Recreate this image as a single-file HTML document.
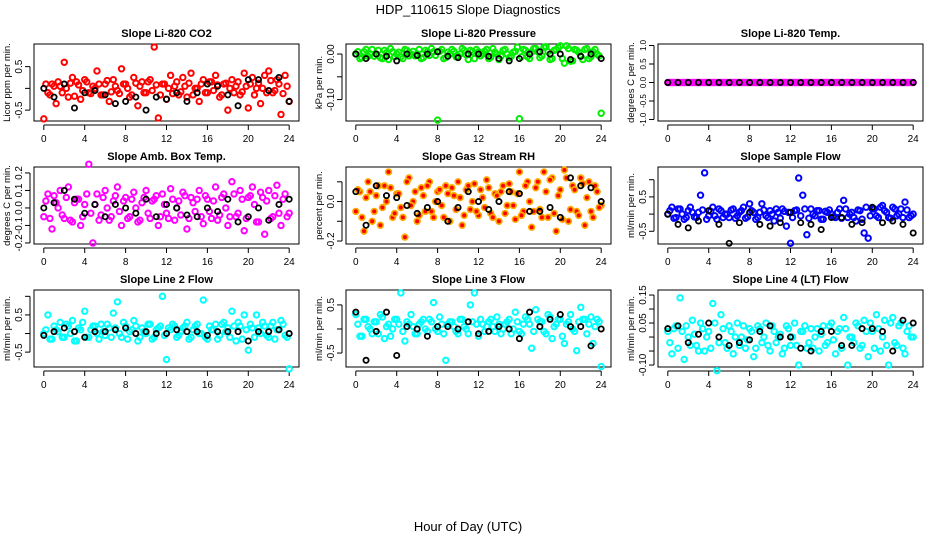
<!DOCTYPE html>
<html><head><meta charset="utf-8"><style>
body{margin:0;background:#fff;}
svg{display:block;font-family:"Liberation Sans",Arial,sans-serif;}
</style></head><body>
<svg id="chart" width="936" height="540" viewBox="0 0 936 540" xmlns="http://www.w3.org/2000/svg">
<text x="468" y="14" text-anchor="middle" font-size="13">HDP_110615  Slope Diagnostics</text>
<text x="468" y="531" text-anchor="middle" font-size="13">Hour of Day (UTC)</text>
</svg>
<script>
const colorHours=[0,0.4,0.8,1.2,1.6,2,2.4,2.8,3.2,3.6,4,4.4,4.8,5.2,5.6,6,6.4,6.8,7.2,7.6,8,8.4,8.8,9.2,9.6,10,10.4,10.8,11.2,11.6,12,12.4,12.8,13.2,13.6,14,14.4,14.8,15.2,15.6,16,16.4,16.8,17.2,17.6,18,18.4,18.8,19.2,19.6,20,20.4,20.8,21.2,21.6,22,22.4,22.8,23.2,23.6,24];
const colorHours2=[0.2,0.6,1,1.4,1.8,2.2,2.6,3,3.4,3.8,4.2,4.6,5,5.4,5.8,6.2,6.6,7,7.4,7.8,8.2,8.6,9,9.4,9.8,10.2,10.6,11,11.4,11.8,12.2,12.6,13,13.4,13.8,14.2,14.6,15,15.4,15.8,16.2,16.6,17,17.4,17.8,18.2,18.6,19,19.4,19.8,20.2,20.6,21,21.4,21.8,22.2,22.6,23,23.4,23.8];
const blackHours=[0,1,2,3,4,5,6,7,8,9,10,11,12,13,14,15,16,17,18,19,20,21,22,23,24];
const xTicks=[0,4,8,12,16,20,24];
const panelTitles=["Slope Li-820 CO2","Slope Li-820 Pressure","Slope Li-820 Temp.","Slope Amb. Box Temp.","Slope Gas Stream RH","Slope Sample Flow","Slope Line 2 Flow","Slope Line 3 Flow","Slope Line 4 (LT) Flow"];
const yTitles=["Licor ppm per min.","kPa per min.","degrees C per min.","degrees C per min.","percent per min.","ml/min per min.","ml/min per min.","ml/min per min.","ml/min per min."];
const co2Vals=[-0.7,-0.1,0.1,-0.35,0.05,0.6,-0.2,0.25,0.15,-0.25,0.2,-0.1,0.05,0.4,-0.15,0.1,-0.3,0.2,-0.05,0.45,0.1,-0.2,0.25,-0.4,0.15,-0.1,0.2,0.95,-0.68,0.1,-0.25,0.3,0.05,-0.15,0.25,-0.2,0.35,0.0,-0.3,0.2,-0.1,0.15,0.3,-0.2,0.1,-0.5,0.2,0.05,-0.15,0.35,-0.45,0.25,0.0,-0.35,0.3,0.4,-0.1,0.2,-0.6,0.3,-0.3];
const co2Vals2=[0.1,-0.15,0.05,0.15,-0.1,0.0,0.12,-0.18,0.08,-0.05,0.15,-0.12,0.0,0.1,-0.15,0.18,-0.08,0.05,-0.12,0.1,0.0,-0.15,0.12,0.05,-0.1,0.15,-0.05,0.08,-0.15,0.1,0.0,-0.12,0.15,-0.08,0.05,0.12,-0.15,0.0,0.1,-0.1,0.15,-0.05,0.08,-0.15,0.12,0.0,-0.1,0.15,-0.08,0.05,0.1,-0.15,0.12,0.0,-0.1,0.18,-0.05,0.1,-0.12,0.05];
const co2Black=[0.0,-0.2,0.1,-0.45,-0.1,-0.05,-0.15,-0.35,-0.3,-0.2,-0.5,-0.2,-0.25,-0.1,-0.3,-0.1,0.1,0.05,-0.15,-0.4,0.2,0.2,-0.05,0.25,-0.3];
const presVals=[0,-0.01,0.005,-0.005,0.01,0,-0.008,0.008,-0.012,0.005,0,-0.006,0.01,-0.004,0.006,0,-0.01,0.008,-0.003,0.005,-0.145,0.01,-0.008,0,0.006,-0.005,0.012,-0.002,0.008,-0.01,0.005,0,0.01,-0.007,0.004,-0.012,0.008,0,-0.005,0.006,-0.142,0.01,-0.006,0.004,0.012,-0.008,0.015,0.005,-0.01,0.01,0.018,-0.02,0.012,-0.015,0.008,-0.005,0.01,-0.01,0.005,0,-0.13];
const presVals2=[0.005,-0.008,0.01,0,-0.005,0.008,-0.01,0.003,0.012,-0.006,0.004,-0.01,0.008,0,-0.004,0.01,-0.008,0.005,0.012,-0.003,0.006,-0.01,0.004,0.01,-0.006,0,0.008,-0.012,0.005,0.01,-0.004,0.006,-0.01,0.012,0,-0.005,0.01,-0.008,0.004,0.015,-0.006,0.008,-0.01,0.012,0.005,-0.004,0.016,-0.012,0.008,0.014,-0.01,0.018,-0.016,0.01,0.004,-0.012,0.012,-0.006,0.01,-0.004];
const presBlack=[0,-0.01,0,-0.005,-0.015,0,-0.003,0,0.005,-0.005,-0.008,0,0,-0.005,-0.01,-0.015,-0.01,0,0.005,0,0,-0.012,-0.005,0,-0.01];
const tempVals=[0,0,0,0,0,0,0,0,0,0,0,0,0,0,0,0,0,0,0,0,0,0,0,0,0,0,0,0,0,0,0,0,0,0,0,0,0,0,0,0,0,0,0,0,0,0,0,0,0,0,0,0,0,0,0,0,0,0,0,0,0];
const tempVals2=[0,0,0,0,0,0,0,0,0,0,0,0,0,0,0,0,0,0,0,0,0,0,0,0,0,0,0,0,0,0,0,0,0,0,0,0,0,0,0,0,0,0,0,0,0,0,0,0,0,0,0,0,0,0,0,0,0,0,0,0];
const tempBlack=[0,0,0,0,0,0,0,0,0,0,0,0,0,0,0,0,0,0,0,0,0,0,0,0,0];
const boxVals=[-0.05,0.08,-0.12,0.03,0.1,-0.06,0.12,-0.08,0.05,-0.1,0.02,0.25,-0.2,0.08,-0.04,0.1,-0.07,0.04,0.12,-0.1,0.06,-0.05,0.09,-0.08,0.03,0.1,-0.06,0.05,-0.1,0.08,-0.03,0.11,-0.07,0.04,0.09,-0.12,0.06,-0.02,0.1,-0.09,0.05,-0.06,0.12,-0.04,0.08,-0.1,0.15,-0.05,0.1,-0.13,0.06,0.12,-0.08,0.09,-0.15,0.1,-0.05,0.13,-0.1,0.08,-0.03];
const boxVals2=[0.04,-0.06,0.07,0.0,-0.04,0.06,-0.07,0.03,0.05,-0.05,0.08,-0.03,0.02,-0.07,0.06,0.0,-0.05,0.07,-0.02,0.04,-0.06,0.05,0.0,-0.07,0.06,-0.03,0.04,0.07,-0.05,0.02,-0.06,0.05,0.0,-0.04,0.07,-0.06,0.03,0.05,-0.05,0.07,-0.02,0.04,-0.07,0.06,0.0,-0.05,0.08,-0.03,0.05,-0.06,0.07,0.02,-0.08,0.06,0.04,-0.06,0.07,-0.03,0.05,-0.05];
const boxBlack=[0.0,0.03,0.1,0.05,-0.03,0.02,-0.05,0.02,0.0,-0.03,0.05,-0.05,0.02,0.0,-0.04,-0.05,0.0,-0.02,0.05,-0.08,-0.05,0.0,-0.07,0.02,0.05];
const rhVals=[-0.05,0.05,-0.15,0.1,-0.1,0.03,-0.12,0.08,0.15,-0.08,0.04,-0.03,-0.18,0.12,0.0,-0.1,0.07,-0.05,0.1,-0.08,0.05,-0.02,0.08,-0.1,0.03,0.1,-0.12,0.06,-0.04,0.09,-0.07,0.02,0.11,-0.06,0.04,-0.1,0.08,-0.02,0.05,-0.09,0.15,-0.05,0.1,-0.13,0.07,-0.04,0.15,-0.08,0.12,-0.15,0.06,0.16,-0.1,0.08,-0.05,0.12,-0.12,0.1,-0.08,0.05,-0.02];
const rhVals2=[0.06,-0.08,0.02,0.05,-0.05,0.08,-0.03,0.0,0.07,-0.06,0.04,-0.08,0.1,-0.02,0.05,-0.07,0.03,0.08,-0.05,0.0,0.06,-0.08,0.04,0.07,-0.04,0.02,-0.07,0.08,0.0,-0.05,0.06,-0.03,0.07,-0.08,0.03,0.05,-0.06,0.09,-0.02,0.04,-0.07,0.08,0.0,-0.05,0.1,-0.08,0.05,0.11,-0.06,0.03,-0.09,0.12,-0.04,0.06,-0.07,0.09,0.02,-0.05,0.08,-0.03];
const rhBlack=[0.05,-0.12,0.08,0.03,0.02,-0.02,-0.06,-0.03,0.0,-0.1,-0.03,0.05,0.0,-0.04,0.0,0.05,0.04,-0.05,-0.05,-0.03,-0.08,0.12,0.08,0.07,0.0];
const sampleVals=[0.0,0.2,-0.1,0.15,-0.15,0.1,0.05,-0.1,0.55,1.2,-0.05,0.2,-0.15,0.1,0.0,-0.1,0.15,-0.05,0.1,-0.12,0.3,0.05,-0.1,0.3,-0.05,0.1,-0.2,0.05,0.15,-0.35,-0.85,0.1,1.05,0.55,-0.6,0.15,-0.05,0.1,-0.15,0.05,0.0,-0.1,0.15,0.4,-0.1,0.05,-0.2,0.1,-0.55,-0.7,0.15,-0.05,0.2,0.1,-0.1,0.2,-0.05,0.15,0.35,-0.1,0.0];
const sampleVals2=[0.1,-0.12,0.15,0.0,-0.1,0.2,-0.08,0.05,0.12,-0.15,0.08,-0.05,0.15,-0.1,0.0,0.12,-0.12,0.05,0.2,-0.08,0.1,-0.15,0.05,0.12,-0.1,0.0,0.15,-0.12,0.08,0.05,-0.1,0.12,-0.05,0.15,-0.12,0.0,0.1,-0.15,0.08,0.12,-0.08,0.05,-0.12,0.15,0.0,-0.1,0.12,-0.15,0.2,-0.05,0.15,-0.1,0.25,0.05,-0.12,0.15,0.0,-0.1,0.12,-0.05];
const sampleBlack=[0.0,-0.3,-0.4,-0.2,0.1,-0.3,-0.85,-0.25,0.05,-0.3,-0.35,-0.25,0.05,-0.25,-0.3,-0.45,-0.1,-0.1,-0.3,-0.25,0.2,-0.25,-0.2,-0.3,-0.55];
const line2Vals=[0.0,0.5,-0.15,0.1,0.3,-0.1,0.2,0.35,-0.2,0.1,0.6,-0.1,0.2,0.0,0.25,-0.05,0.15,0.55,0.85,-0.1,0.2,0.05,0.35,-0.2,0.15,0.0,0.25,-0.1,0.15,1.0,-0.7,0.1,0.2,-0.05,0.15,0.3,-0.1,0.2,0.0,0.9,-0.15,0.1,0.25,-0.05,0.3,0.15,0.6,-0.2,0.2,0.5,-0.45,0.15,0.5,0.0,0.2,-0.1,0.3,0.1,0.35,-0.05,-0.95];
const line2Vals2=[0.1,-0.15,0.2,0.05,-0.1,0.25,0.0,-0.2,0.15,0.3,-0.1,0.1,0.2,-0.15,0.05,0.25,-0.1,0.15,0.0,0.3,-0.15,0.1,0.2,-0.1,0.05,0.25,-0.15,0.1,0.2,-0.05,0.15,0.25,-0.1,0.05,0.2,-0.15,0.1,0.25,0.0,-0.1,0.2,0.1,-0.15,0.25,0.05,-0.1,0.2,0.3,-0.15,0.1,0.25,-0.1,0.15,0.3,-0.05,0.2,-0.15,0.1,0.25,-0.1];
const line2Black=[-0.05,0.05,0.15,0.05,-0.1,0.05,0.05,0.1,0.15,0.0,0.05,0.0,0.0,0.1,0.05,0.05,-0.05,0.05,0.05,0.05,-0.2,0.05,0.05,0.1,0.0];
const line3Vals=[0.3,-0.15,0.2,0.05,-0.1,0.15,0.3,-0.2,0.1,0.0,0.2,0.75,-0.25,0.1,0.05,-0.1,0.15,0.0,0.2,0.55,-0.05,0.1,-0.65,0.15,0.05,-0.1,0.2,0.0,0.5,0.75,-0.15,0.1,0.05,0.2,-0.05,0.1,0.0,0.15,-0.1,0.35,-0.05,0.1,0.2,-0.4,0.4,0.15,-0.05,0.3,-0.2,0.1,0.2,-0.3,0.15,0.0,-0.45,0.45,0.2,0.1,-0.3,0.2,-0.78];
const line3Vals2=[0.1,-0.15,0.2,0.0,0.15,-0.1,0.25,0.05,-0.15,0.2,0.1,-0.05,0.15,0.3,-0.1,0.1,0.2,-0.05,0.15,0.0,0.25,-0.1,0.1,0.15,-0.05,0.2,0.05,-0.1,0.15,0.1,0.2,-0.05,0.15,0.05,0.25,-0.1,0.1,0.2,0.0,0.15,-0.1,0.25,0.1,-0.05,0.2,0.15,-0.1,0.25,0.05,0.2,-0.15,0.1,0.3,-0.05,0.15,0.2,-0.1,0.25,0.05,0.15];
const line3Black=[0.35,-0.65,-0.05,0.35,-0.55,0.05,0.0,-0.15,0.05,0.05,0.0,0.15,-0.1,-0.05,0.05,0.0,-0.2,0.35,0.05,0.2,0.3,0.05,0.05,-0.35,0.0];
const line4Vals=[0.02,-0.06,0.04,0.14,-0.08,0.0,0.06,-0.03,0.05,-0.05,0.02,0.12,-0.12,0.08,-0.02,0.04,-0.06,0.05,0.0,-0.04,0.03,-0.07,0.04,-0.02,0.05,-0.05,0.02,0.0,-0.06,0.04,-0.03,0.05,-0.1,0.02,-0.04,0.03,0.0,-0.05,0.04,-0.02,0.05,-0.06,0.03,0.07,-0.1,0.0,0.05,-0.04,0.06,-0.07,0.02,0.08,-0.05,0.06,-0.1,0.07,-0.03,0.05,-0.06,0.04,0.0];
const line4Vals2=[-0.02,0.03,-0.04,0.02,0.04,-0.03,0.01,-0.05,0.03,0.0,-0.04,0.05,-0.02,0.03,-0.04,0.02,0.0,-0.03,0.04,-0.01,0.02,-0.04,0.03,0.0,-0.03,0.04,-0.02,0.01,-0.04,0.03,0.0,-0.03,0.02,0.04,-0.02,-0.04,0.03,0.01,-0.03,0.04,-0.01,0.02,-0.04,0.03,0.0,-0.02,0.04,-0.03,0.02,0.05,-0.04,0.03,0.0,-0.03,0.05,-0.02,0.04,-0.04,0.02,0.0];
const line4Black=[0.03,0.04,-0.02,0.01,0.05,0.0,-0.03,-0.02,-0.01,0.02,0.04,0.0,0.0,-0.04,-0.05,0.02,0.02,-0.03,-0.03,0.03,0.03,0.02,-0.05,0.06,0.05];
const colorSeries=[co2Vals,presVals,tempVals,boxVals,rhVals,sampleVals,line2Vals,line3Vals,line4Vals];
const colorSeries2=[co2Vals2,presVals2,tempVals2,boxVals2,rhVals2,sampleVals2,line2Vals2,line3Vals2,line4Vals2];
const blackSeries=[co2Black,presBlack,tempBlack,boxBlack,rhBlack,sampleBlack,line2Black,line3Black,line4Black];
const yLimits=[[-0.75,1.02],[-0.147,0.022],[-1.04,1.04],[-0.206,0.234],[-0.215,0.175],[-0.87,1.37],[-0.9,1.17],[-0.79,0.81],[-0.107,0.168]];
const yTickVals=[[-0.5,0,0.5],[-0.1,-0.05,0],[-1,-0.5,0,0.5,1],[-0.2,-0.1,0,0.1,0.2],[-0.2,-0.1,0,0.1],[-0.5,0,0.5,1],[-0.5,0,0.5,1],[-0.5,0,0.5],[-0.1,-0.05,0,0.05,0.1,0.15]];
const yTickLabels=[["-0.5","","0.5"],["-0.10","","0.00"],["-1.0","-0.5","0.0","0.5","1.0"],["-0.2","-0.1","0.0","0.1","0.2"],["-0.2","","0.0",""],["-0.5","","0.5",""],["-0.5","","0.5",""],["-0.5","","0.5"],["-0.10","","","0.05","","0.15"]];
const seriesColors=["#ff0000","#00ee00","#ff00ff","#ff00ff","#ffaa00","#0000ff","#00ffff","#00ffff","#00ffff"];

const NS="http://www.w3.org/2000/svg";
const svg=document.getElementById('chart');
const colX=[34,346,658], rowY=[44,167,290], W=265, H=77;
function mk(tag,attrs,parent){const e=document.createElementNS(NS,tag);for(const k in attrs)e.setAttribute(k,attrs[k]);parent.appendChild(e);return e;}
function slug(s){return s.toLowerCase().replace(/[^a-z0-9]+/g,'-').replace(/^-|-$/g,'');}
for(let p=0;p<9;p++){
  const x0=colX[p%3], y0=rowY[Math.floor(p/3)];
  const [ymin,ymax]=yLimits[p];
  const xs=h=>x0+(h+0.96)/25.92*W;
  const ys=v=>y0+H-(v-ymin)/(ymax-ymin)*H;
  const g=mk('g',{},svg);
  
  
  const t=mk('text',{x:x0+W/2,y:y0-7,'text-anchor':'middle','font-size':11,'font-weight':'bold'},g);
  t.textContent=panelTitles[p];
  
  
  const box=mk('rect',{x:x0,y:y0,width:W,height:H,fill:'none',stroke:'#000','stroke-width':1},g);
  
  
  const xa=mk('g',{},g);
  
  
  mk('line',{x1:xs(0),x2:xs(24),y1:y0+H+4,y2:y0+H+4,stroke:'#000'},xa);
  xTicks.forEach(v=>{
    mk('line',{x1:xs(v),x2:xs(v),y1:y0+H+4,y2:y0+H+9,stroke:'#000'},xa);
    const l=mk('text',{x:xs(v),y:y0+H+21,'text-anchor':'middle','font-size':10},xa);
    l.textContent=String(v);
    
    
  });
  const ya=mk('g',{},g);
  
  
  const tv=yTickVals[p];
  mk('line',{x1:x0-4,x2:x0-4,y1:ys(tv[0]),y2:ys(tv[tv.length-1]),stroke:'#000'},ya);
  tv.forEach((v,i)=>{
    mk('line',{x1:x0-9,x2:x0-4,y1:ys(v),y2:ys(v),stroke:'#000'},ya);
    if(yTickLabels[p][i]){
      const fs=p===2?8:10;
      const l=mk('text',{x:0,y:0,'text-anchor':'middle','font-size':fs,transform:`translate(${x0-12},${ys(v)}) rotate(-90)`},ya);
      l.textContent=yTickLabels[p][i];
      
      
    }
  });
  const yt=mk('text',{x:0,y:0,'text-anchor':'middle','font-size':9.5,transform:`translate(${x0-24},${y0+H/2}) rotate(-90)`},g);
  yt.textContent=yTitles[p];
  
  
  const cg=mk('g',{fill:'none',stroke:seriesColors[p],'stroke-width':2},g);
  
  
  const drawC=(hours,vals)=>vals.forEach((v,i)=>{
    const c=mk('circle',{cx:xs(hours[i]),cy:ys(v),r:2.7},cg);
    
    
    if(p===4){mk('circle',{cx:xs(hours[i]),cy:ys(v),r:1,stroke:'#ff0000'},cg);}
  });
  drawC(colorHours,colorSeries[p]);
  drawC(colorHours2,colorSeries2[p]);
  const bg=mk('g',{fill:'none',stroke:'#000','stroke-width':1.8},g);
  
  
  blackSeries[p].forEach((v,i)=>{
    const c=mk('circle',{cx:xs(blackHours[i]),cy:ys(v),r:2.6},bg);
    
    
  });
}
</script>
</body></html>
